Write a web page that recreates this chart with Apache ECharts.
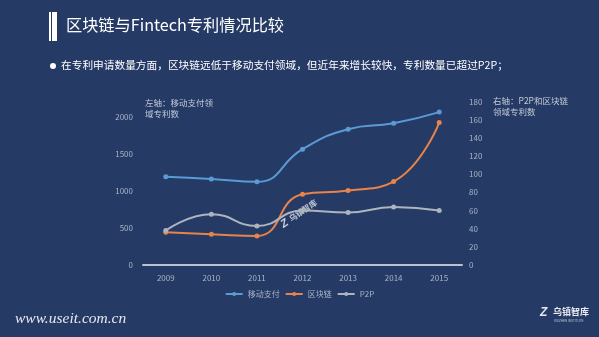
<!DOCTYPE html>
<html>
<head>
<meta charset="utf-8">
<script src="https://cdn.jsdelivr.net/npm/echarts@6/dist/echarts.min.js"></script>
<style>
  html, body { margin: 0; padding: 0; background: #253a65; }
  #chart { width: 599px; height: 337px; }
</style>
</head>
<body>
<div id="chart"></div>
<script>
// Patent counts by year
const years = ['2009', '2010', '2011', '2012', '2013', '2014', '2015'];
const mobilePay = [1190, 1160, 1120, 1560, 1830, 1910, 2060]; // left axis
const blockchain = [36, 34, 32, 78, 82, 92, 157];             // right axis
const p2p = [38, 56, 43, 60, 58, 64, 60];                     // right axis

const textColor = '#aab4c8';
const font = '"Noto Sans CJK SC", "Noto Sans", sans-serif';

const chart = echarts.init(document.getElementById('chart'));

function series(name, data, color, axisIndex) {
  return {
    name: name,
    type: 'line',
    yAxisIndex: axisIndex,
    data: data,
    smooth: true,
    symbol: 'circle',
    symbolSize: 5,
    lineStyle: { color: color, width: 2 },
    itemStyle: { color: color },
    z: 3
  };
}

chart.setOption({
  backgroundColor: '#253a65',
  animation: false,
  textStyle: { fontFamily: font },
  grid: { left: 143, right: 137, top: 101.7, bottom: 72 },
  legend: {
    bottom: 34,
    left: 'center',
    itemWidth: 17,
    itemHeight: 5,
    itemGap: 5,
    textStyle: { color: '#aab4c8', fontSize: 8, fontFamily: font },
    data: ['移动支付', '区块链', 'P2P']
  },
  xAxis: {
    type: 'category',
    data: years,
    boundaryGap: true,
    axisLine: { lineStyle: { color: '#b9c2d4', width: 2 } },
    axisTick: { show: false },
    axisLabel: { color: textColor, fontSize: 8, margin: 9 }
  },
  yAxis: [
    {
      type: 'value',
      min: 0, max: 2200, interval: 500,
      position: 'left',
      axisLine: { show: false },
      axisTick: { show: false },
      splitLine: { show: false },
      axisLabel: { color: textColor, fontSize: 8, margin: 10, showMaxLabel: false, formatter: v => String(v) }
    },
    {
      type: 'value',
      min: 0, max: 180, interval: 20,
      position: 'right',
      axisLine: { show: false },
      axisTick: { show: false },
      splitLine: { show: false },
      axisLabel: { color: textColor, fontSize: 8, margin: 7 }
    }
  ],
  series: [
    series('移动支付', mobilePay, '#5b9bd5', 0),
    series('区块链', blockchain, '#e8834a', 1),
    series('P2P', p2p, '#aeb4bf', 1)
  ],
  graphic: [
    // title marker bars
    { type: 'rect', shape: { x: 49, y: 12, width: 2, height: 29 }, style: { fill: '#ffffff' } },
    { type: 'rect', shape: { x: 52, y: 12, width: 5, height: 29 }, style: { fill: '#ffffff' } },
    { type: 'text', left: 66, top: 17, style: { text: '区块链与Fintech专利情况比较', fill: '#ffffff', font: '16.2px ' + font } },
    // bullet line
    { type: 'circle', shape: { cx: 53, cy: 66, r: 3 }, style: { fill: '#ffffff' } },
    { type: 'text', left: 61, top: 59.5, style: { text: '在专利申请数量方面，区块链远低于移动支付领域，但近年来增长较快，专利数量已超过P2P；', fill: '#ffffff', font: '10.7px ' + font } },
    // axis notes
    { type: 'text', left: 145, top: 97, style: { text: '左轴：移动支付领\n域专利数', fill: '#c4cbd9', font: '8.5px ' + font, lineHeight: 11 } },
    { type: 'text', left: 493, top: 95, style: { text: '右轴：P2P和区块链\n领域专利数', fill: '#c4cbd9', font: '8.5px ' + font, lineHeight: 11 } },
    // watermark
    {
      type: 'group', x: 282, y: 226, rotation: 0.6,
      children: [
        { type: 'text', x: 0, y: -6, style: { text: 'Z', fill: 'rgba(255,255,255,0.75)', font: 'italic bold 11px sans-serif' } },
        { type: 'text', x: 10, y: -5, style: { text: '乌镇智库', fill: 'rgba(255,255,255,0.7)', font: 'bold 8px ' + font } }
      ]
    },
    // footer
    { type: 'text', left: 15, top: 311, style: { text: 'www.useit.com.cn', fill: '#e6e9f0', font: 'italic 15.5px "Liberation Serif", serif' } },
    { type: 'text', left: 553, top: 307, style: { text: '乌镇智库', fill: '#e6e9f0', font: 'bold 9px ' + font } },
    { type: 'text', left: 554, top: 320, style: { text: 'WUZHEN INSTITUTE', fill: '#b9c2d4', font: '3px sans-serif' } },
    { type: 'text', left: 540, top: 307, style: { text: 'Z', fill: '#e6e9f0', font: 'italic bold 12px sans-serif' } }
  ]
});
</script>
</body>
</html>
